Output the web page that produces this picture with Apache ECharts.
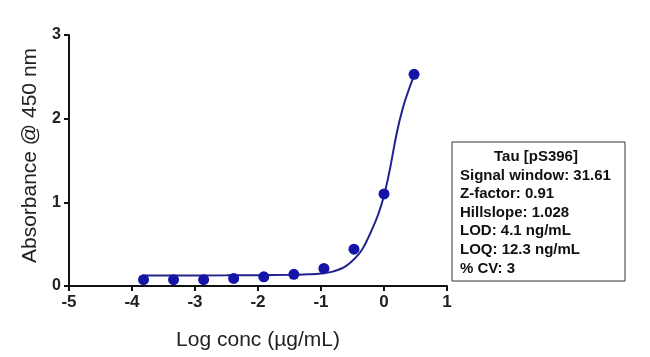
<!DOCTYPE html>
<html>
<head>
<meta charset="utf-8">
<script src="https://cdn.jsdelivr.net/npm/echarts@6/dist/echarts.min.js"></script>
<style>
html,body{margin:0;padding:0;background:#fff;}
#chart{width:650px;height:357px;}
</style>
</head>
<body>
<div id="chart"></div>
<script>
// Measured points: log concentration (µg/mL) and absorbance
const logConc = [-3.817, -3.340, -2.863, -2.386, -1.908, -1.431, -0.954, -0.477, 0.0, 0.477];
const absorbance = [0.075, 0.075, 0.075, 0.09, 0.11, 0.14, 0.21, 0.44, 1.10, 2.53];

// Fitted curve
const curveX = [-3.82, -2.5, -1.5, -1.2, -1.0, -0.8, -0.6, -0.4, -0.3, -0.2, -0.1, 0.0, 0.1, 0.2, 0.3, 0.4, 0.48];
const curveY = [0.125, 0.128, 0.133, 0.14, 0.15, 0.175, 0.24, 0.38, 0.50, 0.66, 0.84, 1.08, 1.42, 1.82, 2.13, 2.36, 2.52];

const xTicks = [-5, -4, -3, -2, -1, 0, 1];
const yTicks = [0, 1, 2, 3];

const infoLines = [
  'Signal window: 31.61',
  'Z-factor: 0.91',
  'Hillslope: 1.028',
  'LOD: 4.1 ng/mL',
  'LOQ: 12.3 ng/mL',
  '% CV: 3'
];
const infoTitle = 'Tau [pS396]';

const FONT = '"Liberation Sans", Arial, sans-serif';
const chart = echarts.init(document.getElementById('chart'), null, {renderer: 'canvas'});

const infoElements = [
  {type: 'rect', shape: {x: 452, y: 142, width: 173, height: 139},
   style: {fill: '#fff', stroke: '#333', lineWidth: 1}},
  {type: 'text', x: 536, y: 157,
   style: {text: infoTitle, font: 'bold 15px ' + FONT, fill: '#111', align: 'center', verticalAlign: 'middle'}}
];
infoLines.forEach((t, i) => {
  infoElements.push({type: 'text', x: 460, y: 175.5 + i * 18.6,
    style: {text: t, font: 'bold 15px ' + FONT, fill: '#111', align: 'left', verticalAlign: 'middle'}});
});

chart.setOption({
  animation: false,
  backgroundColor: '#fff',
  grid: {left: 69, right: 203, top: 35, bottom: 71, containLabel: false},
  xAxis: {
    type: 'value', min: xTicks[0], max: xTicks[xTicks.length - 1], interval: 1,
    name: 'Log conc (µg/mL)', nameLocation: 'middle', nameGap: 44,
    nameTextStyle: {fontFamily: FONT, fontSize: 21, color: '#222'},
    axisLine: {onZero: false, lineStyle: {color: '#111', width: 2}},
    axisTick: {show: true, length: 5, lineStyle: {color: '#111', width: 2}},
    axisLabel: {fontFamily: FONT, fontSize: 17, fontWeight: 'bold', color: '#222', margin: 8,
      formatter: v => String(v)},
    splitLine: {show: false}
  },
  yAxis: {
    type: 'value', min: yTicks[0], max: yTicks[yTicks.length - 1], interval: 1,
    name: 'Absorbance @ 450 nm', nameLocation: 'middle', nameGap: 27,
    nameTextStyle: {fontFamily: FONT, fontSize: 21, color: '#222', padding: [0, 0, 0, 10]},
    axisLine: {show: true, onZero: false, lineStyle: {color: '#111', width: 2}},
    axisTick: {show: true, length: 5, lineStyle: {color: '#111', width: 2}},
    axisLabel: {fontFamily: FONT, fontSize: 16, fontWeight: 'bold', color: '#222', margin: 8},
    splitLine: {show: false}
  },
  series: [
    {
      type: 'line',
      data: curveX.map((x, i) => [x, curveY[i]]),
      showSymbol: false, symbol: 'none',
      smooth: 0.4,
      lineStyle: {color: '#22228f', width: 2},
      z: 2
    },
    {
      type: 'scatter',
      data: logConc.map((x, i) => [x, absorbance[i]]),
      symbol: 'circle', symbolSize: 11,
      itemStyle: {color: '#1414a8', opacity: 1},
      z: 3
    }
  ],
  graphic: infoElements
});
</script>
</body>
</html>
